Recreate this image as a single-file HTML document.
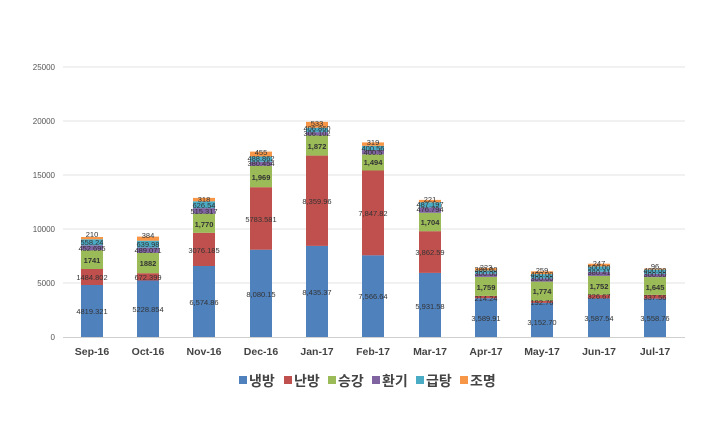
<!DOCTYPE html>
<html><head><meta charset="utf-8"><style>
body{margin:0;background:#fff}
svg{display:block}
.v{font-family:"Liberation Sans",sans-serif;font-size:7.5px;fill:#333;text-anchor:middle}
.g{font-weight:bold}
.y{font-family:"Liberation Sans",sans-serif;font-size:8px;fill:#555;text-anchor:end}
.x{font-family:"Liberation Sans",sans-serif;font-size:10.5px;font-weight:bold;fill:#444;text-anchor:middle}
.l{font-family:"Liberation Sans","Noto Sans CJK KR",sans-serif;font-size:14px;font-weight:bold;fill:#444}
</style></head><body>
<svg width="720" height="440" xmlns="http://www.w3.org/2000/svg">
<rect width="720" height="440" fill="#fff"/>
<g stroke="#e3e3e3" stroke-width="1">
<line x1="63" y1="67" x2="685" y2="67"/><line x1="63" y1="121" x2="685" y2="121"/><line x1="63" y1="175" x2="685" y2="175"/><line x1="63" y1="229" x2="685" y2="229"/><line x1="63" y1="283" x2="685" y2="283"/>
</g>
<line x1="63" y1="337.5" x2="685" y2="337.5" stroke="#d0d0d0"/>
<g class="y"><text x="55" y="70">25000</text><text x="55" y="124">20000</text><text x="55" y="178">15000</text><text x="55" y="232">10000</text><text x="55" y="286">5000</text><text x="55" y="340">0</text></g>
<g class="x">
<text x="92" y="355">Sep-16</text><text x="148" y="355">Oct-16</text><text x="204" y="355">Nov-16</text><text x="261" y="355">Dec-16</text><text x="317" y="355">Jan-17</text><text x="373" y="355">Feb-17</text><text x="430" y="355">Mar-17</text><text x="486" y="355">Apr-17</text><text x="542" y="355">May-17</text><text x="599" y="355">Jun-17</text><text x="655" y="355">Jul-17</text>
</g>
<!-- bars: blue, red, green, purple, teal, orange -->
<g>
<!-- Sep -->
<rect x="81" y="285" width="22" height="52" fill="#4f81bd"/><rect x="81" y="269" width="22" height="16" fill="#c0504d"/><rect x="81" y="250.2" width="22" height="18.8" fill="#9bbb59"/><rect x="81" y="245.3" width="22" height="4.9" fill="#8064a2"/><rect x="81" y="239.3" width="22" height="6" fill="#4bacc6"/><rect x="81" y="237" width="22" height="2.3" fill="#f79646"/>
<!-- Oct -->
<rect x="137" y="280.5" width="22" height="56.5" fill="#4f81bd"/><rect x="137" y="273.2" width="22" height="7.3" fill="#c0504d"/><rect x="137" y="252.9" width="22" height="20.3" fill="#9bbb59"/><rect x="137" y="247.6" width="22" height="5.3" fill="#8064a2"/><rect x="137" y="240.7" width="22" height="6.9" fill="#4bacc6"/><rect x="137" y="236.6" width="22" height="4.1" fill="#f79646"/>
<!-- Nov -->
<rect x="193" y="266" width="22" height="71" fill="#4f81bd"/><rect x="193" y="232.8" width="22" height="33.2" fill="#c0504d"/><rect x="193" y="213.7" width="22" height="19.1" fill="#9bbb59"/><rect x="193" y="208.1" width="22" height="5.6" fill="#8064a2"/><rect x="193" y="201.3" width="22" height="6.8" fill="#4bacc6"/><rect x="193" y="197.9" width="22" height="3.4" fill="#f79646"/>
<!-- Dec -->
<rect x="250" y="249.7" width="22" height="87.3" fill="#4f81bd"/><rect x="250" y="187.2" width="22" height="62.5" fill="#c0504d"/><rect x="250" y="165.9" width="22" height="21.3" fill="#9bbb59"/><rect x="250" y="161.8" width="22" height="4.1" fill="#8064a2"/><rect x="250" y="156.5" width="22" height="5.3" fill="#4bacc6"/><rect x="250" y="151.6" width="22" height="4.9" fill="#f79646"/>
<!-- Jan -->
<rect x="306" y="245.9" width="22" height="91.1" fill="#4f81bd"/><rect x="306" y="155.6" width="22" height="90.3" fill="#c0504d"/><rect x="306" y="135.4" width="22" height="20.2" fill="#9bbb59"/><rect x="306" y="132.1" width="22" height="3.3" fill="#8064a2"/><rect x="306" y="127.7" width="22" height="4.4" fill="#4bacc6"/><rect x="306" y="121.9" width="22" height="5.8" fill="#f79646"/>
<!-- Feb -->
<rect x="362" y="255.3" width="22" height="81.7" fill="#4f81bd"/><rect x="362" y="170.5" width="22" height="84.8" fill="#c0504d"/><rect x="362" y="154.4" width="22" height="16.1" fill="#9bbb59"/><rect x="362" y="150.1" width="22" height="4.3" fill="#8064a2"/><rect x="362" y="145.8" width="22" height="4.3" fill="#4bacc6"/><rect x="362" y="142.4" width="22" height="3.4" fill="#f79646"/>
<!-- Mar -->
<rect x="419" y="272.9" width="22" height="64.1" fill="#4f81bd"/><rect x="419" y="231.2" width="22" height="41.7" fill="#c0504d"/><rect x="419" y="212.8" width="22" height="18.4" fill="#9bbb59"/><rect x="419" y="207.6" width="22" height="5.2" fill="#8064a2"/><rect x="419" y="202.3" width="22" height="5.3" fill="#4bacc6"/><rect x="419" y="199.9" width="22" height="2.4" fill="#f79646"/>
<!-- Apr -->
<rect x="475" y="298.2" width="22" height="38.8" fill="#4f81bd"/><rect x="475" y="295.9" width="22" height="2.3" fill="#c0504d"/><rect x="475" y="276.9" width="22" height="19" fill="#9bbb59"/><rect x="475" y="273.7" width="22" height="3.2" fill="#8064a2"/><rect x="475" y="270.5" width="22" height="3.2" fill="#4bacc6"/><rect x="475" y="268.1" width="22" height="2.4" fill="#f79646"/>
<!-- May -->
<rect x="531" y="302.9" width="22" height="34.1" fill="#4f81bd"/><rect x="531" y="300.8" width="22" height="2.1" fill="#c0504d"/><rect x="531" y="281.6" width="22" height="19.2" fill="#9bbb59"/><rect x="531" y="278.4" width="22" height="3.2" fill="#8064a2"/><rect x="531" y="274.1" width="22" height="4.3" fill="#4bacc6"/><rect x="531" y="271.3" width="22" height="2.8" fill="#f79646"/>
<!-- Jun -->
<rect x="588" y="298.3" width="22" height="38.7" fill="#4f81bd"/><rect x="588" y="294.8" width="22" height="3.5" fill="#c0504d"/><rect x="588" y="275.9" width="22" height="18.9" fill="#9bbb59"/><rect x="588" y="271.8" width="22" height="4.1" fill="#8064a2"/><rect x="588" y="266.4" width="22" height="5.4" fill="#4bacc6"/><rect x="588" y="263.7" width="22" height="2.7" fill="#f79646"/>
<!-- Jul -->
<rect x="644" y="298.6" width="22" height="38.4" fill="#4f81bd"/><rect x="644" y="294.9" width="22" height="3.7" fill="#c0504d"/><rect x="644" y="277.1" width="22" height="17.8" fill="#9bbb59"/><rect x="644" y="273.9" width="22" height="3.2" fill="#8064a2"/><rect x="644" y="269.6" width="22" height="4.3" fill="#4bacc6"/><rect x="644" y="268.6" width="22" height="1" fill="#f79646"/>
</g>
<g class="v">
<text x="92" y="314">4819.321</text><text x="92" y="280">1484.802</text><text x="92" y="263" class="g">1741</text><text x="92" y="251">452.695</text><text x="92" y="245">558.24</text><text x="92" y="237">210</text>
<text x="148" y="312">5228.854</text><text x="148" y="280">672.399</text><text x="148" y="266" class="g">1882</text><text x="148" y="253">489.071</text><text x="148" y="247">639.98</text><text x="148" y="238">384</text>
<text x="204" y="305">6,574.86</text><text x="204" y="253">3076.185</text><text x="204" y="227" class="g">1,770</text><text x="204" y="214">515.317</text><text x="204" y="208">626.54</text><text x="204" y="202">318</text>
<text x="261" y="297">8,080.15</text><text x="261" y="222">5783.581</text><text x="261" y="180" class="g">1,969</text><text x="261" y="166">380.454</text><text x="261" y="161">488.862</text><text x="261" y="155">455</text>
<text x="317" y="295">8,435.37</text><text x="317" y="204">8,359.96</text><text x="317" y="149" class="g">1,872</text><text x="317" y="136">306.102</text><text x="317" y="131">406.860</text><text x="317" y="126">533</text>
<text x="373" y="299">7,566.64</text><text x="373" y="216">7,847.82</text><text x="373" y="165" class="g">1,494</text><text x="373" y="155">400.5</text><text x="373" y="151">400.56</text><text x="373" y="145">319</text>
<text x="430" y="309">5,931.58</text><text x="430" y="255">3,862.59</text><text x="430" y="225" class="g">1,704</text><text x="430" y="212">476.794</text><text x="430" y="207">487.197</text><text x="430" y="202">221</text>
<text x="486" y="321">3,589.91</text><text x="486" y="301">214.24</text><text x="486" y="290" class="g">1,759</text><text x="486" y="276">300.00</text><text x="486" y="272">300.00</text><text x="486" y="270">223</text>
<text x="542" y="325">3,152.70</text><text x="542" y="305">192.76</text><text x="542" y="294" class="g">1,774</text><text x="542" y="281">300.00</text><text x="542" y="277">400.00</text><text x="542" y="273">259</text>
<text x="599" y="321">3,587.54</text><text x="599" y="299">326.67</text><text x="599" y="289" class="g">1,752</text><text x="599" y="275">380.41</text><text x="599" y="270">500.00</text><text x="599" y="266">247</text>
<text x="655" y="321">3,558.76</text><text x="655" y="300">337.56</text><text x="655" y="290" class="g">1,645</text><text x="655" y="277">300.00</text><text x="655" y="273">400.00</text><text x="655" y="269">96</text>
</g>
<g>
<rect x="239" y="376" width="8" height="8" fill="#4f81bd"/><text class="l" x="249" y="386">냉방</text>
<rect x="284" y="376" width="8" height="8" fill="#c0504d"/><text class="l" x="294" y="386">난방</text>
<rect x="328" y="376" width="8" height="8" fill="#9bbb59"/><text class="l" x="338" y="386">승강</text>
<rect x="372" y="376" width="8" height="8" fill="#8064a2"/><text class="l" x="382" y="386">환기</text>
<rect x="416" y="376" width="8" height="8" fill="#4bacc6"/><text class="l" x="426" y="386">급탕</text>
<rect x="460" y="376" width="8" height="8" fill="#f79646"/><text class="l" x="470" y="386">조명</text>
</g>
</svg>
</body></html>
